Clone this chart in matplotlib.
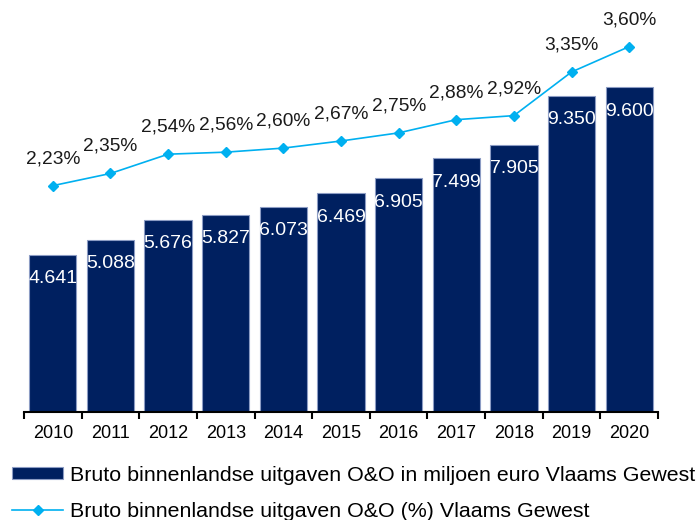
import matplotlib
matplotlib.use("Agg")
import matplotlib.pyplot as plt
import numpy as np

plt.rcParams['font.family'] = ['Liberation Sans', 'DejaVu Sans']

jaren = ['2010', '2011', '2012', '2013', '2014', '2015', '2016', '2017', '2018', '2019', '2020']
uitgaven = [4641, 5088, 5676, 5827, 6073, 6469, 6905, 7499, 7905, 9350, 9600]
uitgaven_lbl = ['4.641', '5.088', '5.676', '5.827', '6.073', '6.469', '6.905', '7.499', '7.905', '9.350', '9.600']
pct = [2.23, 2.35, 2.54, 2.56, 2.60, 2.67, 2.75, 2.88, 2.92, 3.35, 3.60]
pct_lbl = ['2,23%', '2,35%', '2,54%', '2,56%', '2,60%', '2,67%', '2,75%', '2,88%', '2,92%', '3,35%', '3,60%']

navy = '#002060'
lichtblauw = '#00b0f0'

fig = plt.figure(figsize=(6.96, 5.2), dpi=100)
ax = fig.add_axes([24/696, 1-412/520, 634/696, 406/520])
x = np.arange(len(jaren))

bars = ax.bar(x, uitgaven, width=0.82, color=navy, edgecolor='#8c9cc4', linewidth=0.8,
              label='Bruto binnenlandse uitgaven O&O in miljoen euro Vlaams Gewest')
ax.set_xlim(-0.5, len(jaren)-0.5)
ax.set_ylim(0, 12000)
for xi, v, t in zip(x, uitgaven, uitgaven_lbl):
    ax.annotate(t, (xi, v), xytext=(0, -24), textcoords='offset pixels',
                ha='center', va='center', color='white', fontsize=14)

ax2 = ax.twinx()
ax2.set_ylim(0, 4)
lijn, = ax2.plot(x, pct, color=lichtblauw, lw=1.2, marker='D', ms=5,
                 label='Bruto binnenlandse uitgaven O&O (%) Vlaams Gewest')
for xi, v, t in zip(x, pct, pct_lbl):
    ax2.annotate(t, (xi, v), xytext=(0, 27), textcoords='offset pixels',
                 ha='center', va='center', color='#1a1a1a', fontsize=13.8)

for a in (ax, ax2):
    for s in ['top', 'right', 'left']:
        a.spines[s].set_visible(False)
    a.set_yticks([])
ax2.spines['bottom'].set_visible(False)
ax.spines['bottom'].set_linewidth(1.5)

ax.set_xticks(x)
ax.set_xticklabels(jaren, fontsize=13)
ax.tick_params(axis='x', length=0, pad=9)
ax.set_xticks(np.arange(len(jaren)+1) - 0.5, minor=True)
ax.tick_params(axis='x', which='minor', length=5, width=1.5, direction='out')

fig.legend(handles=[bars, lijn], loc='upper left', bbox_to_anchor=(0.005, 1-457/520),
           frameon=False, fontsize=15.4, handlelength=2.4, handleheight=0.55,
           handletextpad=0.33, labelspacing=0.8, borderaxespad=0)

fig.savefig('out.png', dpi=100)
